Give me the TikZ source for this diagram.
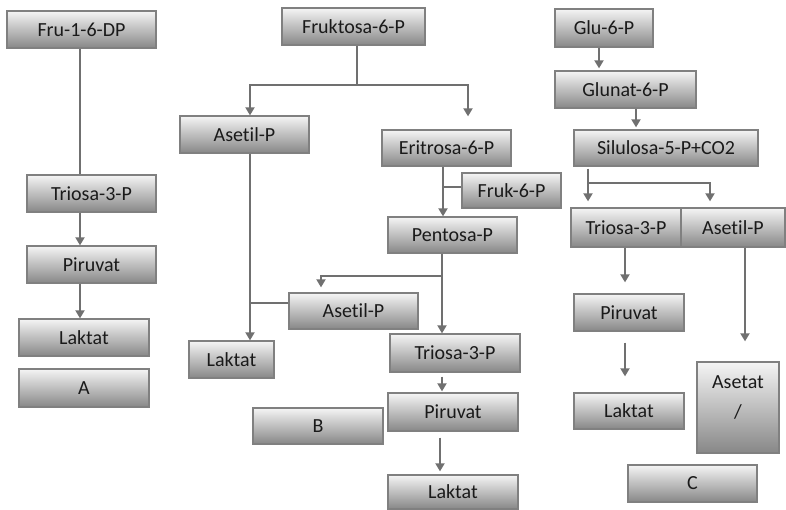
\documentclass[tikz,border=0pt]{standalone}
\usepackage{fontspec}
\setmainfont{Carlito}[Ligatures={NoCommon}]
\usetikzlibrary{arrows.meta,calc}
\definecolor{linegray}{HTML}{707070}
\definecolor{edgegray}{HTML}{808080}
\definecolor{txt}{HTML}{1A1A1A}
\tikzset{
  box/.style={draw=edgegray, line width=1.3pt, top color=black!4, bottom color=black!47,
    inner sep=0pt, text=txt, font=\fontsize{20}{24}\selectfont},
  conn/.style={draw=linegray, line width=1.8pt},
  arr/.style={conn, -{Triangle[width=9pt,length=8pt]}},
}
\newcommand{\bx}[6]{% name, x1, y1, x2, y2, text
  \node[box, minimum width={(#4-#2)*1pt}, minimum height={(#5-#3)*1pt}] (#1)
    at ({(#2+#4)/2},{(#3+#5)/2}) {#6};}
\begin{document}
\begin{tikzpicture}[x=1pt,y=-1pt]
\useasboundingbox[fill=white] (0,0) rectangle (786,510);

% pathway A
\bx{fru}{7}{11}{156}{48}{Fru-1-6-DP}
\bx{triA}{27}{175}{156}{212}{Triosa-3-P}
\bx{pirA}{27}{246}{156}{283}{Piruvat}
\bx{lakA}{19}{319}{149}{356}{Laktat}
\bx{labA}{19}{369}{149}{407}{A}

% pathway B
\bx{fruk}{282}{8}{425}{45}{Fruktosa-6-P}
\bx{asetB}{180}{116}{309}{153}{Asetil-P}
\bx{eri}{382}{130}{511}{166}{Eritrosa-6-P}
\bx{frukp}{462}{173}{561}{208}{Fruk-6-P}
\bx{pent}{388}{217}{517}{253}{Pentosa-P}
\bx{asetBb}{289}{293}{418}{329}{Asetil-P}
\bx{lakB}{189}{341}{274}{378}{Laktat}
\bx{triB}{390}{334}{520}{372}{Triosa-3-P}
\bx{pirB}{388}{393}{518}{431}{Piruvat}
\bx{lakBb}{388}{475}{518}{509}{Laktat}
\bx{labB}{253}{408}{383}{444}{B}

% pathway C
\bx{glu}{555}{9}{653}{47}{Glu-6-P}
\bx{glunat}{555}{71}{696}{108}{Glunat-6-P}
\bx{sil}{574}{130}{758}{166}{Silulosa-5-P+CO2}
\bx{triC}{571}{208}{681}{247}{Triosa-3-P}
\bx{asetC}{681}{208}{785}{247}{Asetil-P}
\bx{pirC}{574}{294}{684}{331}{Piruvat}
\bx{lakC}{574}{393}{684}{429}{Laktat}
\bx{asetat}{697}{362}{779}{453}{}
\node[text=txt, align=center, font=\fontsize{20}{30}\selectfont] (asetatlab)
  at ($(asetat.north)+(0,36)$) {Asetat\\/};
\bx{labC}{628}{465}{757}{502}{C}

% connectors A
\coordinate (fa) at ([xshift=-1.5pt]fru.south);
\draw[conn] (fa) -- (fa |- triA.north);
\draw[arr] (fa |- triA.south) -- (fa |- pirA.north);
\draw[arr] (fa |- pirA.south) -- (fa |- lakA.north);

% connectors B
\coordinate (fs) at ([xshift=3.5pt,yshift=-39pt]fruk.south);
\coordinate (ab) at ([xshift=5.5pt]asetB.north);
\coordinate (er) at ([xshift=21.5pt,yshift=13pt]eri.north);
\draw[conn] ([xshift=3.5pt]fruk.south) -- (fs);
\draw[arr] (fs) -| (ab);
\draw[arr] (fs) -| (er);
\coordinate (eo) at ([xshift=-3.5pt]eri.south);
\draw[arr] (eo) -- (eo |- pent.north);
\draw[conn] (frukp.west |- 0,187) -- (eo |- 0,187);
\coordinate (po) at ([xshift=-10.5pt]pent.south);
\draw[arr] (po) -- (po |- triB.north);
\coordinate (pb) at ([yshift=-22pt]po);
\draw[arr] (pb) -| ([xshift=-32.5pt,yshift=5pt]asetBb.north);
\coordinate (ao) at ([xshift=5.5pt]asetB.south);
\draw[arr] (ao) -- (ao |- lakB.north);
\draw[conn] ([yshift=8pt]asetBb.west) -- ([yshift=8pt]asetBb.west -| ao);
\draw[arr] ([yshift=-4pt]triB.south -| po) -- ([yshift=1pt]pirB.north -| po);
\draw[arr] ([xshift=-2pt,yshift=-6pt]pirB.south -| po) -- ([xshift=-2pt,yshift=3pt]lakBb.north -| po);

% connectors C
\coordinate (go) at ([xshift=-5pt]glu.south);
\draw[arr] (go) -- ([yshift=2pt]go |- glunat.north);
\coordinate (gn) at ([xshift=10.5pt]glunat.south);
\draw[arr] (gn) -- ([yshift=2pt]gn |- sil.north);
\coordinate (so) at ([xshift=-78pt,yshift=-2pt]sil.south);
\coordinate (sb) at ([yshift=-14pt]so);
\draw[arr] (so) -- ([yshift=6pt]so |- triC.north);
\draw[arr] (sb) -| ([xshift=-23pt,yshift=6pt]asetC.north);
\coordinate (to) at ([xshift=-1pt]triC.south);
\draw[arr] (to) -- ([yshift=11pt]to |- pirC.north);
\draw[arr] ([yshift=-11pt]to |- pirC.south) -- ([yshift=16pt]to |- lakC.north);
\coordinate (ac) at ([xshift=12pt]asetC.south);
\draw[arr] (ac) -- ([yshift=20pt]ac |- asetat.north);
\end{tikzpicture}
\end{document}
